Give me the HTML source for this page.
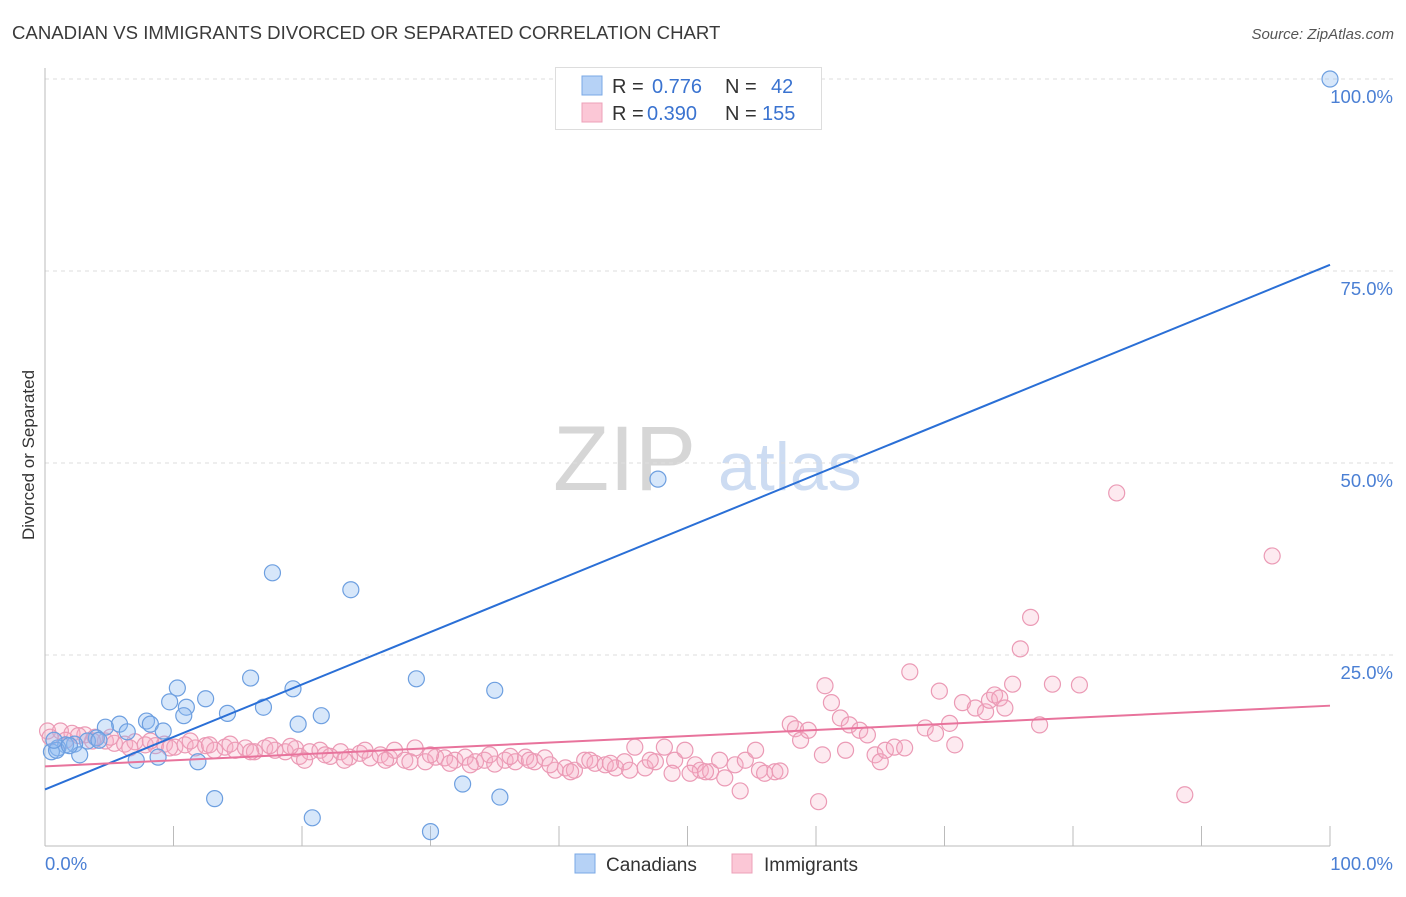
<!DOCTYPE html>
<html><head><meta charset="utf-8"><style>
body{margin:0;background:#fff;font-family:"Liberation Sans",sans-serif;}
svg text{font-family:"Liberation Sans",sans-serif;}
</style></head><body>
<svg id="chart" width="1406" height="892">
<text x="12" y="39" font-size="18.6" fill="#3a3a3a">CANADIAN VS IMMIGRANTS DIVORCED OR SEPARATED CORRELATION CHART</text>
<text x="1394" y="39" font-size="15" fill="#555" font-style="italic" text-anchor="end">Source: ZipAtlas.com</text>
<text transform="translate(34,455) rotate(-90)" font-size="17" fill="#333" text-anchor="middle">Divorced or Separated</text>
<g><text x="553" y="490" font-size="92" fill="#d6d6d6" font-family="Liberation Serif,serif">ZIP</text><text x="718" y="490" font-size="68" fill="#cddcf2">atlas</text></g>
<g id="grid"></g><g id="axes"></g><g id="pts"></g><g id="lines"></g>
<g>
<rect x="555.5" y="67.5" width="266" height="62" fill="#fff" stroke="#ddd"/>
<rect x="582" y="76" width="20" height="19" fill="#b6d2f6" stroke="#7aa8e6"/>
<text x="612" y="93" font-size="20" fill="#333">R =</text><text x="652" y="93" font-size="20" fill="#3a73d0">0.776</text>
<text x="725" y="93" font-size="20" fill="#333">N =</text><text x="771" y="93" font-size="20" fill="#3a73d0">42</text>
<rect x="582" y="103" width="20" height="19" fill="#fbc7d6" stroke="#eda0b8"/>
<text x="612" y="120" font-size="20" fill="#333">R =</text><text x="647" y="120" font-size="20" fill="#3a73d0">0.390</text>
<text x="725" y="120" font-size="20" fill="#333">N =</text><text x="762" y="120" font-size="20" fill="#3a73d0">155</text>
</g>
<g>
<rect x="575" y="854" width="20" height="19" fill="#b6d2f6" stroke="#7aa8e6"/>
<text x="606" y="871" font-size="19" fill="#333">Canadians</text>
<rect x="732" y="854" width="20" height="19" fill="#fbc7d6" stroke="#eda0b8"/>
<text x="764" y="871" font-size="19" fill="#333">Immigrants</text>
</g>
</svg>
<script>
const yTicks=[25,50,75,100];
const yTickLabels=["25.0%","50.0%","75.0%","100.0%"];
const xTicks=[0,10,20,30,40,50,60,70,80,90,100];
const blueX=[100,47.7,17.7,23.8,10.3,16.0,28.9,35.0,19.3,12.5,9.7,11.0,17.0,21.5,14.2,10.8,7.9,8.2,5.8,19.7,4.7,6.4,9.2,4.0,3.3,2.3,1.6,1.0,0.5,0.9,2.7,7.1,8.8,11.9,13.2,20.8,30.0,32.5,35.4,0.7,4.2,1.9];
const blueY=[100,47.9,35.7,33.5,20.7,22.0,21.9,20.4,20.6,19.3,18.9,18.2,18.2,17.1,17.4,17.1,16.4,16.0,16.0,16.0,15.6,15.0,15.1,14.2,13.8,13.4,13.3,12.9,12.4,12.6,12.0,11.3,11.7,11.1,6.3,3.8,2.0,8.2,6.5,13.9,13.9,13.2];
const pinkX=[0.2,1.2,2.1,3.1,3.9,4.7,5.4,6.2,7.0,7.8,8.6,9.3,10.1,10.9,11.7,12.5,13.2,14.0,14.8,15.6,16.3,17.1,17.9,18.7,19.5,19.8,20.6,21.4,22.2,23.0,23.7,24.5,25.3,26.1,26.8,27.2,28.0,28.8,29.6,30.4,31.1,31.9,32.7,33.5,34.2,35.0,35.8,36.6,37.4,38.1,38.9,39.7,40.5,41.2,42.0,42.8,43.6,44.4,45.1,45.9,46.7,47.5,48.2,49.0,49.8,50.6,51.0,51.8,52.5,52.9,53.7,54.1,54.5,55.3,55.6,56.0,56.8,57.2,58.0,58.4,58.8,59.4,60.2,60.5,60.7,61.2,61.9,62.3,62.6,63.4,64.0,64.6,65.0,65.4,66.1,66.9,67.3,68.5,69.3,69.6,70.4,70.8,71.4,72.4,73.2,73.5,73.9,74.3,74.7,75.3,75.9,76.7,77.4,78.4,80.5,83.4,88.7,95.5,0.4,1.6,2.6,3.7,5.1,6.6,8.2,9.7,11.3,12.8,14.4,16.0,17.5,19.1,20.2,21.8,23.3,24.9,26.5,28.4,30.0,31.5,33.1,34.6,36.2,37.7,39.3,40.9,42.4,44.0,45.5,47.1,48.8,50.2,51.4];
const pinkY=[15.1,15.1,14.8,14.6,14.3,13.8,13.5,13.4,13.7,13.3,13.2,13.4,13.0,13.3,12.9,13.2,12.6,13.0,12.6,12.9,12.4,12.9,12.6,12.4,12.8,11.8,12.4,12.6,11.8,12.4,11.7,12.2,11.6,12.0,11.6,12.6,11.3,12.9,11.1,11.7,11.6,11.3,11.7,11.1,11.3,10.8,11.3,11.1,11.7,11.1,11.6,10.0,10.3,10.0,11.3,10.9,10.7,10.3,11.1,13.0,10.3,11.1,13.0,11.3,12.6,10.7,10.0,9.8,11.3,9.0,10.7,7.3,11.3,12.6,10.0,9.6,9.8,9.9,16.0,15.4,13.9,15.2,5.9,12.0,21.0,18.8,16.8,12.6,15.9,15.2,14.6,12.0,11.1,12.6,13.0,12.9,22.8,15.5,14.8,20.3,16.1,13.3,18.8,18.1,17.6,19.1,19.8,19.4,18.1,21.2,25.8,29.9,15.9,21.2,21.1,46.1,6.8,37.9,14.3,13.9,14.5,13.8,14.3,12.9,13.8,12.9,13.8,13.3,13.4,12.4,13.2,13.1,11.3,12.0,11.3,12.6,11.3,11.1,12.0,10.9,10.7,12.0,11.8,11.3,10.7,9.8,11.3,10.9,10.0,11.3,9.6,9.6,9.8];
const blueLine=[7.5,75.8];
const pinkLine=[10.5,18.4];
const X0=45,X1=1330,Y0=847,Y1=79;
const sx=v=>X0+(X1-X0)*v/100, sy=v=>Y0-(Y0-Y1)*v/100;
const NS="http://www.w3.org/2000/svg";
function mk(p,t,a){const e=document.createElementNS(NS,t);for(const k in a)e.setAttribute(k,a[k]);p.appendChild(e);return e;}
const grid=document.getElementById('grid'),axes=document.getElementById('axes'),pts=document.getElementById('pts'),lines=document.getElementById('lines');
yTicks.forEach((t,i)=>{
 const l=mk(grid,'line',{x1:X0,x2:1394,y1:sy(t),y2:sy(t),stroke:'#ddd','stroke-dasharray':'4,4'});
 
 
 const tx=mk(axes,'text',{x:1393,y:sy(t)+24,'font-size':18.5,fill:'#4a7fd4','text-anchor':'end'});
 tx.textContent=yTickLabels[i];
 
 
});
const ax=mk(axes,'line',{x1:X0,x2:X1,y1:846,y2:846,stroke:'#bbb'});


const ay=mk(axes,'line',{x1:X0,x2:X0,y1:68,y2:846,stroke:'#bbb'});


xTicks.forEach(t=>{
 const l=mk(axes,'line',{x1:sx(t),x2:sx(t),y1:826,y2:846,stroke:'#bbb'});
 
 
});
const xl0=mk(axes,'text',{x:45,y:870,'font-size':18.5,fill:'#4a7fd4'});xl0.textContent='0.0%';


const xl1=mk(axes,'text',{x:1393,y:870,'font-size':18.5,fill:'#4a7fd4','text-anchor':'end'});xl1.textContent='100.0%';


pinkX.forEach((v,i)=>{
 const c=mk(pts,'circle',{cx:sx(v),cy:sy(pinkY[i]),r:8,fill:'rgba(247,170,195,0.25)',stroke:'#eb9ab5','stroke-width':1.2});
 
 
});
blueX.forEach((v,i)=>{
 const c=mk(pts,'circle',{cx:sx(v),cy:sy(blueY[i]),r:8,fill:'rgba(140,185,240,0.35)',stroke:'#6d9fe0','stroke-width':1.2});
 
 
});
const bl=mk(lines,'line',{x1:sx(0),y1:sy(blueLine[0]),x2:sx(100),y2:sy(blueLine[1]),stroke:'#2a6fd6','stroke-width':2});


const pl=mk(lines,'line',{x1:sx(0),y1:sy(pinkLine[0]),x2:sx(100),y2:sy(pinkLine[1]),stroke:'#e8739c','stroke-width':2});


</script>
</body></html>
